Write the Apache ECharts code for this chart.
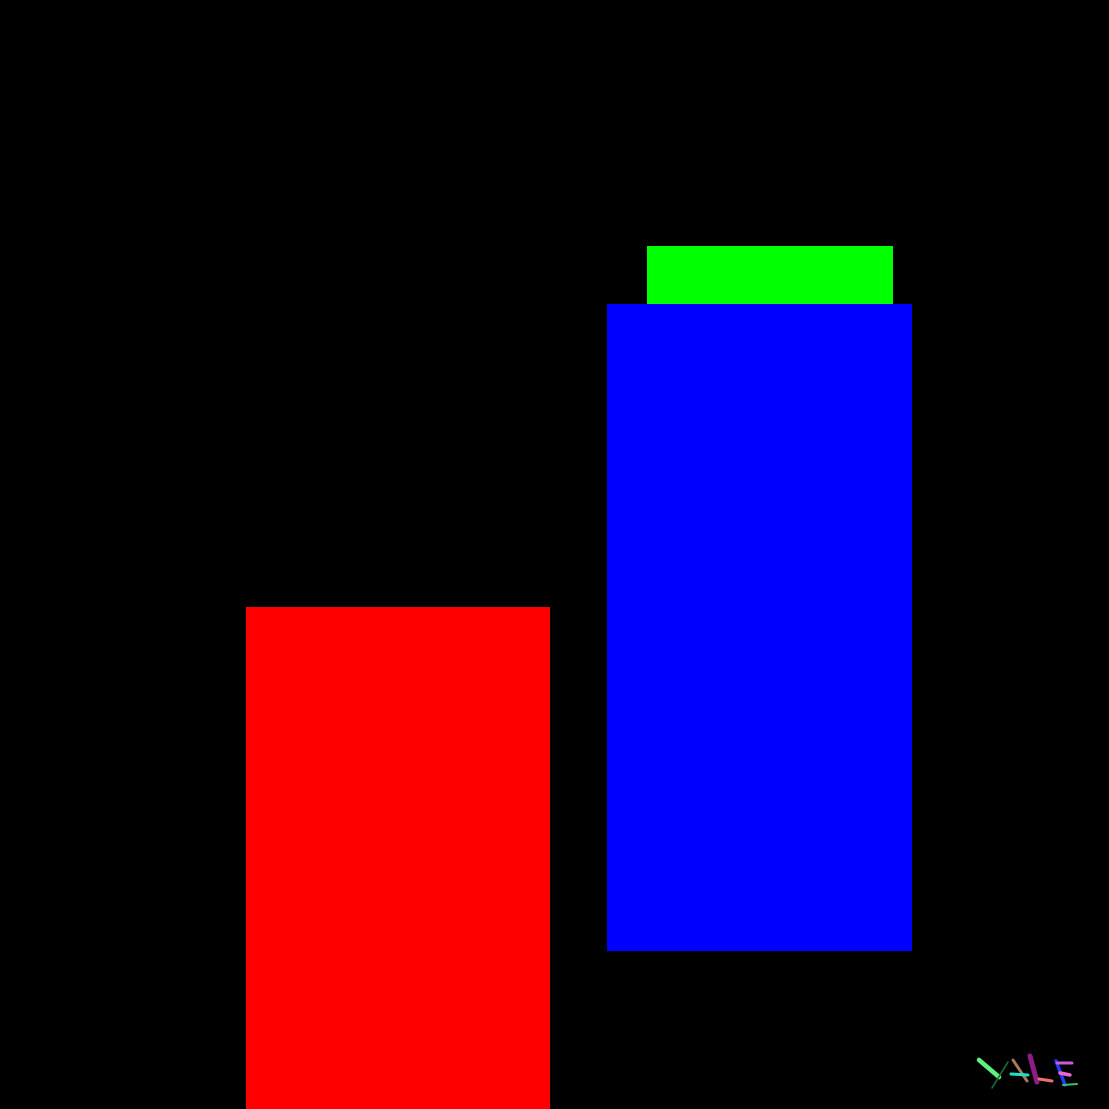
<!DOCTYPE html>
<html>
<head>
<meta charset="utf-8">
<script src="https://cdn.jsdelivr.net/npm/echarts@6/dist/echarts.min.js"></script>
<style>html,body{margin:0;padding:0;background:#000;}#c{width:1109px;height:1109px;}</style>
</head>
<body>
<div id="c"></div>
<script>
// Block data (value space 0..1109, y upward)
var blockNames = ["red", "blue", "green"];
var blockX0 = [246, 607, 647];
var blockX1 = [550, 912, 893];
var blockY0 = [0, 158, 805];
var blockY1 = [502, 805, 863];
var blockColors = ["#ff0000", "#0000ff", "#00ff00"];

// Logo strokes (YALE)
var strokeX0 = [979, 1008, 1013, 1011, 1030, 1039, 1056, 1057, 1060, 1063];
var strokeY0 = [49, 47, 49, 35, 53, 30, 48, 46, 36, 24];
var strokeX1 = [999, 992, 1027, 1028, 1037, 1052, 1065, 1072, 1070, 1077];
var strokeY1 = [32, 21, 28, 34, 27, 28, 24, 46, 34, 25];
var strokeW = [4.5, 1.5, 3, 3, 5, 3, 3.5, 3, 3.5, 2];
var strokeColors = ["#5ff07f", "#1d6a38", "#a97b5c", "#22e0c8", "#8c1c86", "#f26f6f", "#1f3cff", "#cc5ade", "#ec68cc", "#3fbf62"];

var blockData = blockNames.map(function (n, i) { return [blockX0[i], blockX1[i], blockY0[i], blockY1[i], i]; });
var strokeData = strokeX0.map(function (v, i) { return [strokeX0[i], strokeY0[i], strokeX1[i], strokeY1[i], i]; });

var chart = echarts.init(document.getElementById('c'));
chart.setOption({
  backgroundColor: '#000000',
  animation: false,
  grid: { left: 0, right: 0, top: 0, bottom: 0 },
  xAxis: { type: 'value', min: 0, max: 1109, show: false },
  yAxis: { type: 'value', min: 0, max: 1109, show: false },
  series: [
    {
      type: 'custom',
      data: blockData,
      renderItem: function (params, api) {
        var tl = api.coord([api.value(0), api.value(3)]);
        var br = api.coord([api.value(1), api.value(2)]);
        return {
          type: 'rect',
          shape: { x: tl[0], y: tl[1], width: br[0] - tl[0], height: br[1] - tl[1] },
          style: { fill: blockColors[api.value(4)] }
        };
      }
    },
    {
      type: 'custom',
      data: strokeData,
      renderItem: function (params, api) {
        var a = api.coord([api.value(0), api.value(1)]);
        var b = api.coord([api.value(2), api.value(3)]);
        var i = api.value(4);
        return {
          type: 'line',
          shape: { x1: a[0], y1: a[1], x2: b[0], y2: b[1] },
          style: { stroke: strokeColors[i], lineWidth: strokeW[i], lineCap: 'round' }
        };
      }
    }
  ]
});
</script>
</body>
</html>
